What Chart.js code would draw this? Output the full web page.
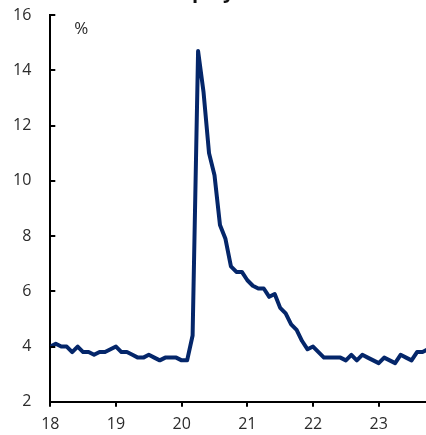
<!DOCTYPE html>
<html>
<head>
<meta charset="utf-8">
<script src="https://cdn.jsdelivr.net/npm/chart.js@4.4.0/dist/chart.umd.min.js"></script>
<style>
  html, body { margin: 0; padding: 0; background: #fff; overflow: hidden; }
  #wrap { position: absolute; left: 0; top: -30px; width: 426px; height: 472px; }
</style>
</head>
<body>
<div id="wrap"><canvas id="myChart"></canvas></div>
<script>
// monthly unemployment rate, Jan 2018 - Oct 2023
const startYear = 18;
const rate2018 = [4.0, 4.1, 4.0, 4.0, 3.8, 4.0, 3.8, 3.8, 3.7, 3.8, 3.8, 3.9];
const rate2019 = [4.0, 3.8, 3.8, 3.7, 3.6, 3.6, 3.7, 3.6, 3.5, 3.6, 3.6, 3.6];
const rate2020 = [3.5, 3.5, 4.4, 14.7, 13.2, 11.0, 10.2, 8.4, 7.9, 6.9, 6.7, 6.7];
const rate2021 = [6.4, 6.2, 6.1, 6.1, 5.8, 5.9, 5.4, 5.2, 4.8, 4.6, 4.2, 3.9];
const rate2022 = [4.0, 3.8, 3.6, 3.6, 3.6, 3.6, 3.5, 3.7, 3.5, 3.7, 3.6, 3.5];
const rate2023 = [3.4, 3.6, 3.5, 3.4, 3.7, 3.6, 3.5, 3.8, 3.8, 3.9];
const xTickLabels = ["18", "19", "20", "21", "22", "23"];
const yTickLabels = ["2", "4", "6", "8", "10", "12", "14", "16"];

const rates = [].concat(rate2018, rate2019, rate2020, rate2021, rate2022, rate2023);
const points = rates.map((v, i) => ({ x: startYear + i / 12, y: v }));

const navy = "#04266a";
const textColor = "#2b2b2b";
const font = { family: "'Open Sans', 'Noto Sans', sans-serif", size: 16 };

// y ticks point inward, plus the "%" unit label
const extras = {
  id: "extras",
  afterDraw(chart) {
    const ctx = chart.ctx;
    const y = chart.scales.y;
    const area = chart.chartArea;
    ctx.save();
    ctx.strokeStyle = "#000";
    ctx.lineWidth = 2;
    y.ticks.forEach(t => {
      const py = Math.round(y.getPixelForValue(t.value));
      ctx.beginPath();
      ctx.moveTo(area.left, py);
      ctx.lineTo(area.left + 5, py);
      ctx.stroke();
    });
    ctx.fillStyle = textColor;
    ctx.font = "17px 'Open Sans', 'Noto Sans', sans-serif";
    ctx.textBaseline = "middle";
    ctx.fillText("%", area.left + 24, area.top + 14);
    ctx.restore();
  }
};

const data = {
  datasets: [
    {
      label: "Unemployment rate",
      data: points,
      borderColor: navy,
      borderWidth: 4,
      pointRadius: 0,
      fill: false,
      tension: 0,
      borderJoinStyle: "round",
    },
  ],
};

const config = {
  type: "line",
  data: data,
  options: {
    responsive: true,
    maintainAspectRatio: false,
    animation: false,
    layout: { padding: { left: -6, right: 0, top: 0, bottom: 0 } },
    plugins: {
      legend: { display: false },
      tooltip: { enabled: false },
      title: {
        display: true,
        text: "Unemployment",
        color: "#111",
        font: { family: "'Open Sans', 'Noto Sans', sans-serif", size: 20, weight: "bold" },
        padding: { top: 10, bottom: 11 },
      },
    },
    scales: {
      x: {
        type: "linear",
        min: 18,
        max: 23.72,
        border: { display: true, color: "#000", width: 2 },
        grid: { drawOnChartArea: false, drawTicks: true, tickLength: 5, color: "#000", lineWidth: 2 },
        afterBuildTicks: (scale) => {
          scale.ticks = xTickLabels.map((l, i) => ({ value: startYear + i }));
        },
        ticks: {
          color: textColor,
          font: font,
          padding: 8,
          maxRotation: 0,
          autoSkip: false,
          callback: (v) => xTickLabels[Math.round(v) - startYear],
        },
      },
      y: {
        min: 2,
        max: 16,
        border: { display: true, color: "#000", width: 2 },
        grid: { drawOnChartArea: false, drawTicks: false },
        ticks: {
          stepSize: 2,
          color: textColor,
          font: font,
          padding: 19,
          callback: (v) => yTickLabels[(v - 2) / 2],
        },
      },
    },
  },
  plugins: [extras],
};

let chart = new Chart(document.querySelector("#myChart"), config);
</script>
</body>
</html>
